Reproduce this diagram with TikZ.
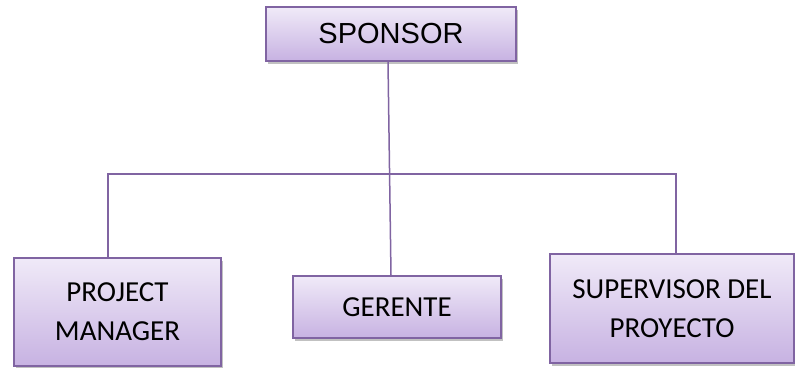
\documentclass[tikz,border=0pt]{standalone}
\usepackage{fontspec}
\setmainfont{Carlito}
\newfontfamily\headfont{Liberation Sans}
\usetikzlibrary{shadows}
\definecolor{boxline}{HTML}{8064A2}
\definecolor{boxtop}{HTML}{F0EAF8}
\definecolor{boxbot}{HTML}{C7B2E2}
\tikzset{
  orgbox/.style={draw=boxline, line width=1.6pt, top color=boxtop, bottom color=boxbot,
    align=center, inner sep=0pt,
    font=\fontsize{29}{39}\selectfont,
    drop shadow={shadow xshift=1.5pt, shadow yshift=-2.5pt, opacity=0.35, fill=black!70}},
  conn/.style={draw=boxline, line width=1.5pt}
}
\begin{document}
\begin{tikzpicture}[x=1pt, y=-1pt]
  \useasboundingbox (0,0) rectangle (795,367);
  % chart boxes
  \node[orgbox, minimum width=250pt, minimum height=54pt, font=\headfont\fontsize{29}{34}\selectfont]
    (sponsor) at (391,34) {SPONSOR};
  \node[orgbox, minimum width=207pt, minimum height=108pt] (pm) at (117.5,312) {PROJECT\\MANAGER};
  \node[orgbox, minimum width=208pt, minimum height=62pt] (gerente) at (397,307) {GERENTE};
  \node[orgbox, minimum width=244pt, minimum height=109pt] (sup) at (672,308.5) {SUPERVISOR DEL\\PROYECTO};
  % connectors
  \coordinate (busL) at (108,174);
  \coordinate (busR) at (676,174);
  \draw[conn] (pm.north -| busL) -- (busL) -- (busR) -- (busR |- sup.north);
  \draw[conn] ([xshift=-3pt]sponsor.south) -- ([xshift=-6pt]gerente.north);
\end{tikzpicture}
\end{document}
